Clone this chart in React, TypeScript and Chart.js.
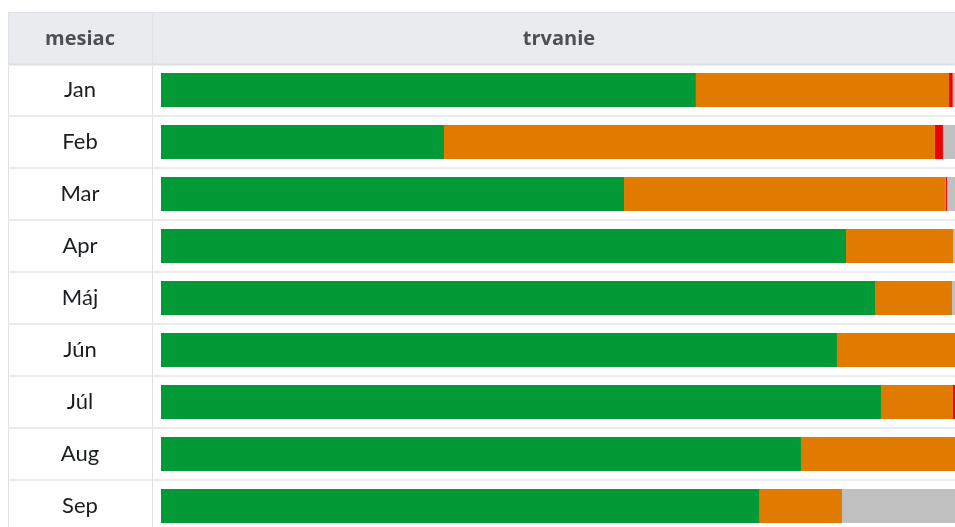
import { useEffect, useRef } from "react";
import { Chart, registerables } from "chart.js";
Chart.register(...registerables);

const months = ["Jan", "Feb", "Mar", "Apr", "Máj", "Jún", "Júl", "Aug", "Sep"];
const greenVals = [67.2, 35.55, 58.17, 86.06, 89.7, 84.92, 90.45, 80.4, 75.21];
const orangeVals = [31.8, 61.68, 40.41, 13.44, 9.67, 15.08, 9.05, 19.6, 10.34];
const redVals = [0.46, 1.0, 0.16, 0, 0, 0, 0.5, 0, 0];
const grayVals = [0.54, 1.77, 1.26, 0.5, 0.63, 0, 0, 0, 14.45];
const headers = ["mesiac", "trvanie"];

const W = 972;
const H = 540;
const TABLE_L = 8;
const TABLE_T = 12;
const TABLE_R = 966;
const COL_X = 152;
const HEADER_B = 64.5;

const tablePlugin = {
  id: "tableFrame",
  beforeDatasetsDraw(chart: any) {
    const ctx = chart.ctx as CanvasRenderingContext2D;
    const area = chart.chartArea;
    const yScale = chart.scales.y;
    ctx.save();
    ctx.fillStyle = "#e9ebee";
    ctx.fillRect(TABLE_L, TABLE_T, TABLE_R - TABLE_L, HEADER_B - TABLE_T);
    ctx.strokeStyle = "#dfe2e6";
    ctx.lineWidth = 1;
    ctx.beginPath();
    ctx.moveTo(TABLE_L, TABLE_T + 0.5);
    ctx.lineTo(TABLE_R, TABLE_T + 0.5);
    ctx.stroke();
    ctx.beginPath();
    ctx.moveTo(TABLE_L + 0.5, TABLE_T);
    ctx.lineTo(TABLE_L + 0.5, H);
    ctx.stroke();
    ctx.beginPath();
    ctx.moveTo(COL_X + 0.5, TABLE_T);
    ctx.lineTo(COL_X + 0.5, H);
    ctx.stroke();
    ctx.lineWidth = 2;
    ctx.strokeStyle = "#dcdfe3";
    ctx.beginPath();
    ctx.moveTo(TABLE_L, HEADER_B);
    ctx.lineTo(TABLE_R, HEADER_B);
    ctx.stroke();
    ctx.lineWidth = 1.5;
    ctx.strokeStyle = "#e3e6ea";
    const n = months.length;
    const band = (area.bottom - area.top) / n;
    for (let i = 1; i <= n; i++) {
      const y = area.top + i * band;
      ctx.beginPath();
      ctx.moveTo(TABLE_L, y);
      ctx.lineTo(TABLE_R, y);
      ctx.stroke();
    }
    ctx.fillStyle = "#4b5057";
    ctx.font = "bold 20px 'Open Sans'";
    ctx.textAlign = "center";
    ctx.textBaseline = "middle";
    ctx.fillText(headers[0], (TABLE_L + COL_X) / 2, (TABLE_T + HEADER_B) / 2 + 1);
    ctx.fillText(headers[1], (COL_X + TABLE_R) / 2, (TABLE_T + HEADER_B) / 2 + 1);
    ctx.fillStyle = "#1a1d21";
    ctx.font = "22px Lato";
    months.forEach((m, i) => {
      const y = yScale.getPixelForValue(i);
      ctx.fillText(m, (TABLE_L + COL_X) / 2, y);
    });
    ctx.restore();
  },
};

export default function App() {
  const ref = useRef<HTMLCanvasElement | null>(null);
  useEffect(() => {
    document.body.style.overflow = "hidden";
    document.documentElement.style.overflow = "hidden";
    if (!ref.current) return;
    const mk = (label: string, data: number[], color: string) => ({
      label,
      data,
      backgroundColor: color,
      borderWidth: 0,
      categoryPercentage: 1,
      barPercentage: 34 / 52,
    });
    const chart = new Chart(ref.current, {
      type: "bar",
      data: {
        labels: months,
        datasets: [
          mk("zelená", greenVals, "#029a36"),
          mk("oranžová", orangeVals, "#e07b00"),
          mk("červená", redVals, "#ec0000"),
          mk("sivá", grayVals, "#c0c0c0"),
        ],
      },
      options: {
        indexAxis: "y",
        animation: false,
        responsive: false,
        devicePixelRatio: 1,
        layout: { padding: { left: 161, right: W - 957, top: HEADER_B - 0.5, bottom: H - (HEADER_B - 0.5 + 52 * 9) } },
        plugins: { legend: { display: false }, tooltip: { enabled: false } },
        scales: {
          x: { display: false, stacked: true, min: 0, max: 100 },
          y: { display: false, stacked: true },
        },
      },
      plugins: [tablePlugin],
    } as any);
    return () => chart.destroy();
  }, []);
  return (
    <div style={{ position: "absolute", left: 0, top: 0, width: W, height: H, background: "#fff" }}>
      <canvas ref={ref} width={W} height={H} style={{ display: "block" }} />
    </div>
  );
}
